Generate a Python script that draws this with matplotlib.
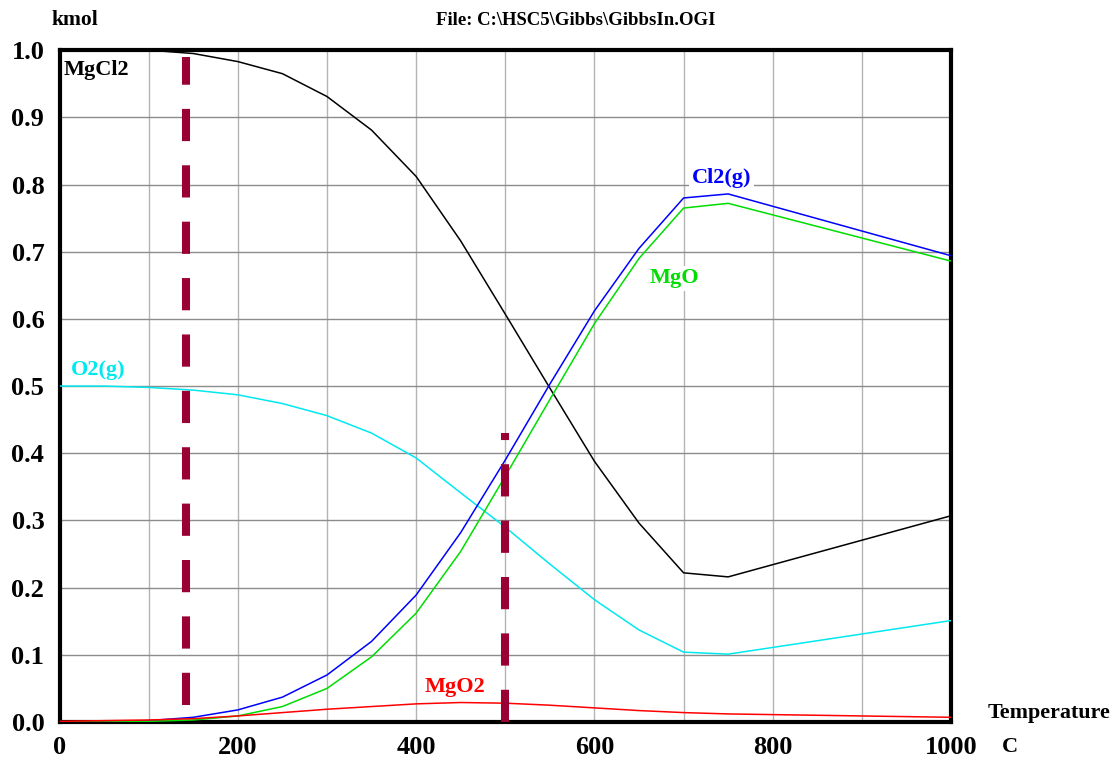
import matplotlib
matplotlib.use("Agg")
import matplotlib.pyplot as plt

# temperature points (C)
temp = [0, 50, 100, 150, 200, 250, 300, 350, 400, 450, 500, 550, 600, 650, 700, 750, 1000]

# amounts (kmol)
mgcl2 = [1.0, 1.0, 1.0, 0.995, 0.983, 0.965, 0.931, 0.881, 0.812, 0.716, 0.607, 0.497, 0.388, 0.296, 0.222, 0.216, 0.307]
cl2 = [0.0, 0.0, 0.002, 0.007, 0.018, 0.037, 0.07, 0.12, 0.189, 0.282, 0.39, 0.503, 0.612, 0.705, 0.78, 0.786, 0.694]
mgo = [0.0, 0.0, 0.001, 0.003, 0.009, 0.023, 0.05, 0.097, 0.162, 0.254, 0.366, 0.48, 0.593, 0.69, 0.765, 0.772, 0.686]
o2 = [0.5, 0.5, 0.498, 0.494, 0.487, 0.474, 0.456, 0.43, 0.393, 0.341, 0.29, 0.235, 0.182, 0.137, 0.104, 0.101, 0.151]
mgo2 = [0.001, 0.002, 0.003, 0.005, 0.009, 0.014, 0.019, 0.023, 0.027, 0.029, 0.028, 0.025, 0.021, 0.017, 0.014, 0.012, 0.007]

# dashed marker lines: (temperature, y from, y to)
markers = [(142, 0.025, 0.99), (500, 0.0, 0.43)]

plt.rcParams['font.family'] = ['Liberation Serif', 'DejaVu Serif']
plt.rcParams['font.weight'] = 'bold'

fig = plt.figure(figsize=(11.13, 7.6), dpi=100)
ax = fig.add_axes([0.0535, 0.05, 0.801, 0.884])

for t in range(100, 1000, 100):
    ax.axvline(t, color='#b4b4b4', lw=1.0, zorder=0)
for k in range(1, 10):
    ax.axhline(k / 10, color='#8c8c8c', lw=1.0, zorder=0)

# curves drawn above the frame so the ones near 0 stay visible
ax.plot(temp, mgcl2, color='black', lw=1.1, zorder=7)
ax.plot(temp, o2, color='#00e8f0', lw=1.1, zorder=7)
ax.plot(temp, cl2, color='#0000ff', lw=1.1, zorder=7)
ax.plot(temp, mgo, color='#00dd00', lw=1.1, zorder=7)
ax.plot(temp, mgo2, color='#ff0000', lw=1.1, zorder=7)

for t, y0, y1 in markers:
    ax.plot([t, t], [y0, y1], color='#990033', lw=5.8, dashes=(4, 3),
            solid_capstyle='butt', dash_capstyle='butt', zorder=8)

box = dict(facecolor='white', edgecolor='none', pad=2)
lab = dict(fontsize=16, fontweight='bold', va='baseline', bbox=box, zorder=5)
ax.text(4, 0.963, 'MgCl2', color='black', **lab)
ax.text(13, 0.516, 'O2(g)', color='#00e8f0', **lab)
ax.text(709, 0.802, 'Cl2(g)', color='#0000ff', **lab)
ax.text(662, 0.653, 'MgO', color='#00dd00', **lab)
ax.text(409, 0.045, 'MgO2', color='#ff0000', **lab)

ax.set_xlim(0, 1000)
ax.set_ylim(0, 1.0)
ax.set_xticks(range(0, 1001, 200))
ax.set_yticks([k / 10 for k in range(11)])
ax.set_yticklabels([f'{k / 10:.1f}' for k in range(11)])
ax.tick_params(length=0, labelsize=19)
ax.tick_params(axis='x', pad=10)
ax.tick_params(axis='y', pad=11)
for t in ax.get_xticklabels() + ax.get_yticklabels():
    t.set_fontweight('bold')
for s in ax.spines.values():
    s.set_linewidth(3)
    s.set_color('black')
    s.set_zorder(6)

fig.text(0.0467, 0.967, 'kmol', fontsize=15.5, fontweight='bold', va='baseline')
fig.text(0.3917, 0.967, 'File: C:\\HSC5\\Gibbs\\GibbsIn.OGI', fontsize=13.5, fontweight='bold', va='baseline')
fig.text(0.8877, 0.0553, 'Temperature', fontsize=15.8, fontweight='bold', va='baseline')
fig.text(0.9003, 0.0105, 'C', fontsize=16, fontweight='bold', va='baseline')

fig.savefig('out.png', dpi=100)
